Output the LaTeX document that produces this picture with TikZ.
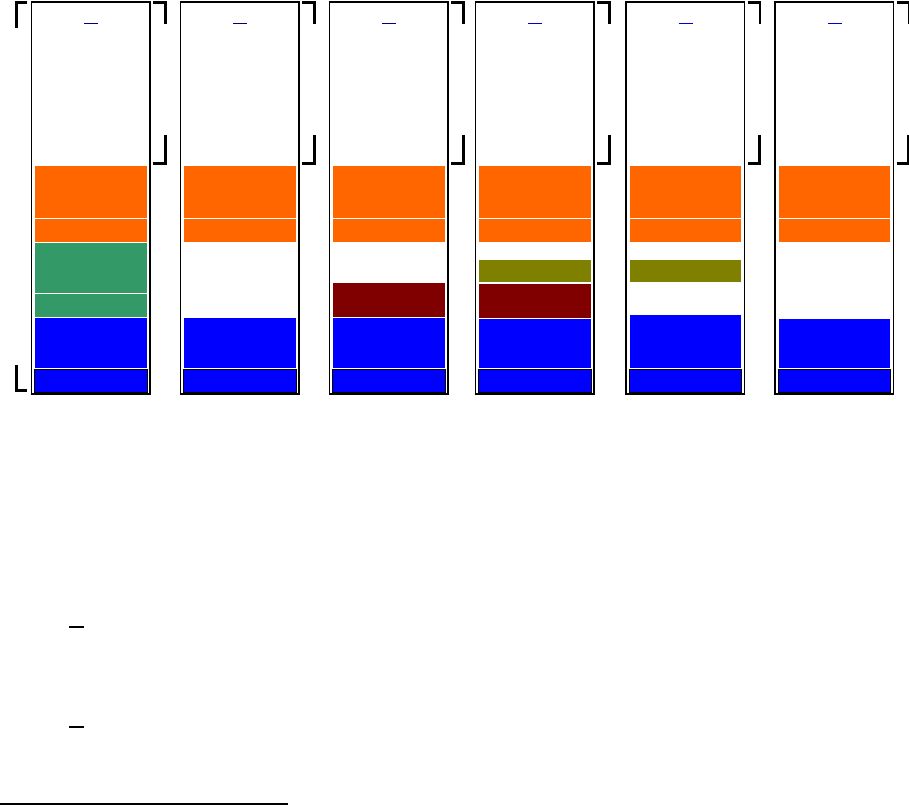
\documentclass[tikz,border=0pt]{standalone}
\usetikzlibrary{calc}
\definecolor{orng}{HTML}{FF6600}
\definecolor{grn}{HTML}{339966}
\definecolor{mrn}{HTML}{800000}
\definecolor{olv}{HTML}{808000}
\definecolor{blu}{HTML}{0000FF}
\definecolor{navy}{HTML}{000080}
\definecolor{lnk}{HTML}{0000CC}
\tikzset{
  colbox/.style={draw=black, line width=1.1pt, fill=white},
  blkb/.style={draw=black, line width=1pt, fill=blu},
  brk/.style={draw=black, line width=2.6pt, line cap=butt},
}
\begin{document}
\begin{tikzpicture}[x=1pt,y=-1pt]
\useasboundingbox (0,0) rectangle (909,806);
\foreach \L/\mc [count=\i] in {31.5/navy,180.5/navy,329.5/navy,475.5/lnk,626/lnk,775/lnk}{
  \draw[colbox] (\L,2) rectangle ++(118.5,392);
  \draw[\mc, line width=1.2pt] ($(\L,23.5)+(52.5,0)$) -- ++(14,0);
  \fill[orng] ($(\L,166)+(3.5,0)$) rectangle ($(\L,218)+(115,0)$);
  \fill[orng] ($(\L,219)+(3.5,0)$) rectangle ($(\L,242)+(115,0)$);
  \draw[blkb] ($(\L,369)+(3,0)$) rectangle ($(\L,392)+(115.5,0)$);
  \draw[brk] ($(\L,2.3)+(121.5,0)$) -- ++(12.5,0) -- ++(0,21.7);
  \draw[brk] ($(\L,135)+(133.7,0)$) -- ++(0,28.7) -- ++(-12,0);
}
% column 1
\fill[grn] (35,243) rectangle (146.5,293);
\fill[grn] (35,294) rectangle (146.5,317);
\fill[blu] (35,318) rectangle (146.5,368);
% column 2
\fill[blu] (184,318) rectangle (295.5,368);
% column 3
\fill[mrn] (333,283) rectangle (444.5,317);
\fill[blu] (333,318) rectangle (444.5,368);
% column 4
\fill[olv] (479,260) rectangle (590.5,282);
\fill[mrn] (479,284) rectangle (590.5,318);
\fill[blu] (479,319) rectangle (590.5,368);
% column 5
\fill[olv] (629.5,260) rectangle (741,282);
\fill[blu] (629.5,315) rectangle (741,368);
% column 6
\fill[blu] (778.5,319) rectangle (890,368);
% left brackets of column 1
\draw[brk] (27,2.3) -- (16.3,2.3) -- (16.3,28);
\draw[brk] (16.3,365) -- (16.3,390.7) -- (27,390.7);
% lower marks
\draw[line width=2pt] (69,626.5) -- (84,626.5);
\draw[line width=1.3pt] (69,727) -- (84,727);
\draw[line width=2pt] (0,804) -- (287.5,804);
\end{tikzpicture}
\end{document}
